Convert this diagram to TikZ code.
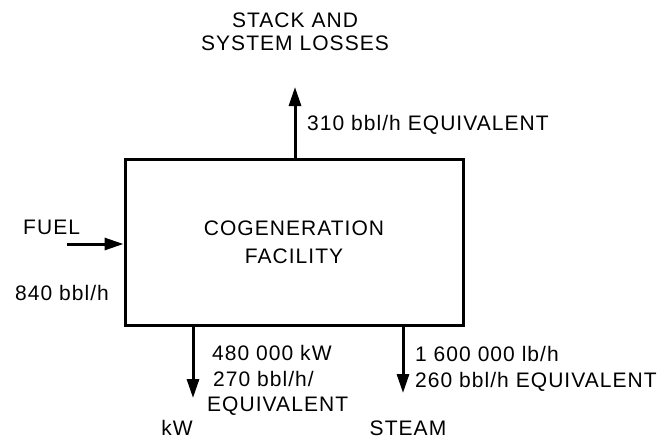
\documentclass[tikz,border=0pt]{standalone}
\usepackage{fontspec}
\setmainfont{Liberation Sans}[LetterSpace=5]
\usetikzlibrary{arrows.meta}
\tikzset{
  lbl/.style={inner sep=0pt, font=\fontsize{21}{25}\selectfont},
  facility/.style={draw, line width=3pt, minimum width=338pt, minimum height=166pt, inner sep=0pt, align=center, font=\fontsize{21}{28}\selectfont},
  flow/.style={line width=3pt, -{Triangle[length=19pt,width=12pt]}}
}
\begin{document}
\begin{tikzpicture}[x=1pt,y=-1pt]
\useasboundingbox (0,0) rectangle (670,440);
\node[facility] (cog) at (294,242) {COGENERATION\\FACILITY};
\coordinate (stacktip) at (295,87);
\coordinate (fuelstart) at (67,244);
\coordinate (kwtip) at (193,398);
\coordinate (steamtip) at (403,393);
\draw[flow] (stacktip |- cog.north) -- (stacktip);
\draw[flow] (fuelstart) -- (fuelstart -| cog.west);
\draw[flow] (kwtip |- cog.south) -- (kwtip);
\draw[flow] (steamtip |- cog.south) -- (steamtip);
\node[lbl, anchor=base] (stack1) at (295,27) {STACK AND};
\node[lbl, anchor=base] (stack2) at (295,50) {SYSTEM LOSSES};
\node[lbl, anchor=base west] (stackval) at (307,130) {310 bbl/h EQUIVALENT};
\node[lbl, anchor=base west] (fuel) at (23,234) {FUEL};
\node[lbl, anchor=base west] (fuelval) at (15,300) {840 bbl/h};
\node[lbl, anchor=base west] (kw1) at (212,360) {480 000 kW};
\node[lbl, anchor=base west] (kw2) at (213,386) {270 bbl/h/};
\node[lbl, anchor=base west] (kw3) at (207,411) {EQUIVALENT};
\node[lbl, anchor=base] (kw) at (177,435) {kW};
\node[lbl, anchor=base west] (st1) at (415,361) {1 600 000 lb/h};
\node[lbl, anchor=base west] (st2) at (415,387) {260 bbl/h EQUIVALENT};
\node[lbl, anchor=base] (steam) at (408,435) {STEAM};
\end{tikzpicture}
\end{document}
